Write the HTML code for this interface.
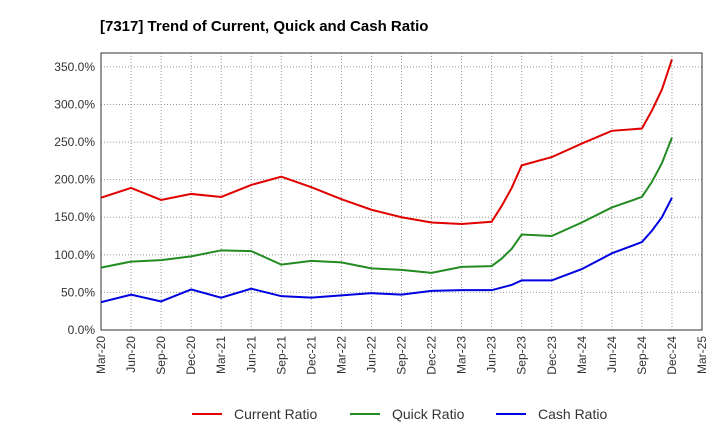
<!DOCTYPE html>
<html><head><meta charset="utf-8"><style>
body{margin:0;background:#fff;font-family:"Liberation Sans",sans-serif;}
</style></head><body>
<svg width="720" height="440" xmlns="http://www.w3.org/2000/svg">
<text x="100" y="31" font-size="15" font-weight="bold" fill="#000">[7317]  Trend of Current, Quick and Cash Ratio</text>
<g id="grid"></g><g id="axes"></g><g id="series"></g><g id="legend"></g>
</svg>
<script>
const xLabels=["Mar-20","Jun-20","Sep-20","Dec-20","Mar-21","Jun-21","Sep-21","Dec-21","Mar-22","Jun-22","Sep-22","Dec-22","Mar-23","Jun-23","Sep-23","Dec-23","Mar-24","Jun-24","Sep-24","Dec-24","Mar-25"];
const yTicks=[0,50,100,150,200,250,300,350];
// month index since Mar-20
const currentMonths=[0,3,6,9,12,15,18,21,24,27,30,33,36,39,40,41,42,45,48,51,54,55,56,57];
const currentVals=[176,189,173,181,177,193,204,190,174,160,150,143,141,144,165,189,219,230,248,265,268,292,320,360];
const quickMonths=[0,3,6,9,12,15,18,21,24,27,30,33,36,39,40,41,42,45,48,51,54,55,56,57];
const quickVals=[83,91,93,98,106,105,87,92,90,82,80,76,84,85,95,108,127,125,143,163,177,197,222,256];
const cashMonths=[0,3,6,9,12,15,18,21,24,27,30,33,36,39,41,42,45,48,51,54,55,56,57];
const cashVals=[37,47,38,54,43,55,45,43,46,49,47,52,53,53,60,66,66,81,102,117,132,150,176];
const X0=101,X1=702,Y0=330,YT=53,yMax=368.5;
const xs=m=>X0+(X1-X0)*m/60;
const ys=v=>Y0-(Y0-YT)*v/yMax;
const NS="http://www.w3.org/2000/svg";
function mk(tag,attrs,parent,txt){const e=document.createElementNS(NS,tag);for(const k in attrs)e.setAttribute(k,attrs[k]);if(txt!==undefined)e.textContent=txt;document.getElementById(parent).appendChild(e);return e;}
const g=document.getElementById('grid');
yTicks.forEach(v=>{const l=mk('line',{x1:X0,x2:X1,y1:ys(v),y2:ys(v),stroke:'#999','stroke-dasharray':'1,2','stroke-width':1},'grid');


const t=mk('text',{x:X0-6,y:ys(v)+4,'text-anchor':'end','font-size':12,fill:'#333'},'axes',v.toFixed(1)+'%');

});
xLabels.forEach((s,i)=>{const x=xs(i*3);const l=mk('line',{x1:x,x2:x,y1:YT,y2:Y0,stroke:'#999','stroke-dasharray':'1,2','stroke-width':1},'grid');


const t=mk('text',{x:x+4,y:Y0+6,'text-anchor':'end','font-size':12,fill:'#333',transform:`rotate(-90 ${x+4} ${Y0+6})`},'axes',s);

});
const fr=mk('rect',{x:X0,y:YT,width:X1-X0,height:Y0-YT,fill:'none',stroke:'#333','stroke-width':1},'axes');


function series(ms,vs,color,name){const p=mk('polyline',{points:ms.map((m,i)=>xs(m)+','+ys(vs[i])).join(' '),fill:'none',stroke:color,'stroke-width':2},'series');

}
series(currentMonths,currentVals,'#e00000','current-ratio-line');
series(quickMonths,quickVals,'#228b22','quick-ratio-line');
series(cashMonths,cashVals,'#0000e0','cash-ratio-line');
[['Current Ratio','#e00000',192],['Quick Ratio','#228b22',350],['Cash Ratio','#0000e0',496]].forEach(([n,c,x])=>{
const l=mk('line',{x1:x,x2:x+30,y1:414,y2:414,stroke:c,'stroke-width':2},'legend');


const t=mk('text',{x:x+42,y:419,'font-size':14,fill:'#333'},'legend',n);

});
</script>
</body></html>
